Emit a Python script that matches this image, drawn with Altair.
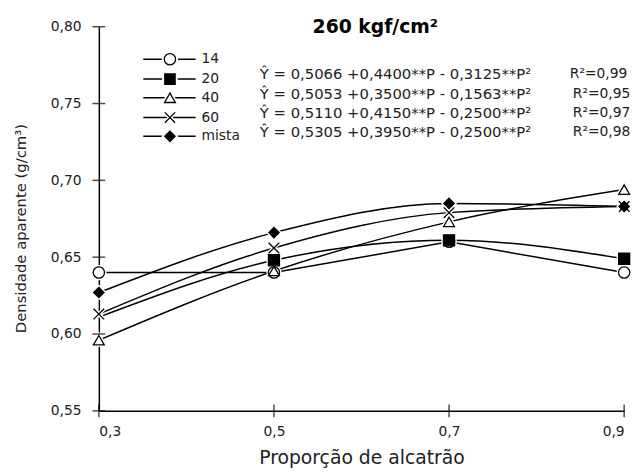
import altair as alt
import pandas as pd

# ---------------- data ----------------
P = [0.3, 0.5, 0.7, 0.9]
series = ["14", "20", "40", "60", "mista"]
v14 = [0.640, 0.640, 0.660, 0.640]
v20 = [0.611, 0.648, 0.661, 0.649]
v40 = [0.596, 0.641, 0.673, 0.694]
v60 = [0.613, 0.656, 0.679, 0.683]
vmista = [0.627, 0.666, 0.685, 0.683]
hidden_markers = [("20", 0.3)]

equations = [
    "Ŷ = 0,5066 +0,4400**P  - 0,3125**P²",
    "Ŷ = 0,5053 +0,3500**P  - 0,1563**P²",
    "Ŷ = 0,5110 +0,4150**P  - 0,2500**P²",
    "Ŷ = 0,5305 +0,3950**P  - 0,2500**P²",
]
r2 = ["R²=0,99", "R²=0,95", "R²=0,97", "R²=0,98"]
title_text = "260 kgf/cm²"
x_title = "Proporção de alcatrão"
y_title = "Densidade aparente (g/cm³)"
yticks = [0.55, 0.60, 0.65, 0.70, 0.75, 0.80]
xticks = [0.3, 0.5, 0.7, 0.9]

# ---------------- table ----------------
vals = {"14": v14, "20": v20, "40": v40, "60": v60, "mista": vmista}
rows = []
for s in series:
    for p, v in zip(P, vals[s]):
        rows.append({"series": s, "P": p, "y": v,
                     "marker": (s, p) not in hidden_markers})
df = pd.DataFrame(rows)

W, H = 532, 389
FONT = "DejaVu Sans"
xpath = "M-1,-1L1,1M-1,1L1,-1"
shapes = ["circle", "square", "triangle-up", xpath, "diamond"]
fills = ["white", "black", "white", "white", "black"]
sizes = [130, 110, 120, 110, 110]

xs = alt.Scale(domain=[0.3, 0.9], nice=False, zero=False)
ys = alt.Scale(domain=[0.55, 0.80], nice=False, zero=False)

X = alt.X("P:Q", scale=xs,
          axis=alt.Axis(values=xticks, title=x_title, ticks=False, grid=False,
                        labelExpr="replace(format(datum.value, '.1f'), '.', ',')",
                        labelFont=FONT, labelFontSize=14, labelColor="#222",
                        labelPadding=14, titlePadding=10, titleFontSize=19,
                        titleFont=FONT, titleFontWeight="normal"))
Y = alt.Y("y:Q", scale=ys,
          axis=alt.Axis(values=yticks, title=y_title, ticks=False, grid=False,
                        labelExpr="replace(format(datum.value, '.2f'), '.', ',')",
                        labelFont=FONT, labelFontSize=14, labelColor="#222",
                        labelPadding=18, titlePadding=22, titleFontSize=15,
                        titleY=204,
                        titleFont=FONT, titleFontWeight="normal"))

base = alt.Chart(df)
line_lin = base.transform_filter("datum.series == '14'").mark_line(
    color="black", strokeWidth=1.5).encode(x=X, y=Y, detail="series:N")
line_fit = base.transform_filter("datum.series != '14'").mark_line(
    color="black", strokeWidth=1.5, interpolate="monotone").encode(
    x=X, y=Y, detail="series:N")

shape_enc = alt.Shape("series:N", scale=alt.Scale(domain=series, range=shapes), legend=None)
size_enc = alt.Size("series:N", scale=alt.Scale(domain=series, range=sizes), legend=None)
fill_enc = alt.Fill("series:N", scale=alt.Scale(domain=series, range=fills), legend=None)

pts = base.transform_filter("datum.marker")
halo = pts.mark_point(opacity=1, stroke="white", strokeWidth=4, fill="white").encode(
    x=X, y=Y, shape=shape_enc, size=size_enc)
marks = pts.mark_point(opacity=1, stroke="black", strokeWidth=1.3).encode(
    x=X, y=Y, shape=shape_enc, size=size_enc, fill=fill_enc)

# crossing ticks
ytk = alt.Chart(pd.DataFrame({"y": yticks})).mark_tick(
    orient="horizontal", size=13, thickness=1.5, color="black").encode(
    y=alt.Y("y:Q", scale=ys), x=alt.value(0))
xtk = alt.Chart(pd.DataFrame({"P": xticks})).mark_tick(
    orient="vertical", size=13, thickness=1.5, color="black").encode(
    x=alt.X("P:Q", scale=xs), y=alt.value(H))

layers = [line_lin, line_fit, halo, marks, ytk, xtk]

# title
layers.append(alt.Chart(pd.DataFrame({"t": [title_text]})).mark_text(
    font=FONT, fontSize=19, fontWeight="bold", align="center",
    baseline="middle", color="black").encode(
    text="t:N", x=alt.value(280), y=alt.value(0)))

# legend
leg_y = [33, 53, 72, 92, 111]
for s, yy, shp, fl, sz in zip(series, leg_y, shapes, fills, sizes):
    d = pd.DataFrame({"t": [s]})
    layers.append(alt.Chart(d).mark_rule(color="black", strokeWidth=1.5).encode(
        x=alt.value(45), x2=alt.value(98), y=alt.value(yy)))
    layers.append(alt.Chart(d).mark_point(shape=shp, size=sz + 30, fill="white",
                                          stroke="white", strokeWidth=4, opacity=1).encode(
        x=alt.value(72), y=alt.value(yy)))
    layers.append(alt.Chart(d).mark_point(shape=shp, size=sz, fill=fl,
                                          stroke="black", strokeWidth=1.3, opacity=1).encode(
        x=alt.value(72), y=alt.value(yy)))
    layers.append(alt.Chart(d).mark_text(font=FONT, fontSize=14, align="left",
                                         baseline="middle", color="#222").encode(
        text="t:N", x=alt.value(104), y=alt.value(yy)))

# equations
eq_y = [48, 68, 87, 107]
r2_x = [477, 480, 480, 480]
for e, r, yy, rx in zip(equations, r2, eq_y, r2_x):
    layers.append(alt.Chart(pd.DataFrame({"t": [e]})).mark_text(
        font=FONT, fontSize=15, align="left", baseline="middle",
        color="#222").encode(text="t:N", x=alt.value(163), y=alt.value(yy)))
    layers.append(alt.Chart(pd.DataFrame({"t": [r]})).mark_text(
        font=FONT, fontSize=14, align="left", baseline="middle",
        color="#222").encode(text="t:N", x=alt.value(rx), y=alt.value(yy)))

chart = alt.layer(*layers).properties(
    width=W, height=H,
    autosize=alt.AutoSizeParams(type="none"),
    padding={"left": 92, "top": 16, "right": 12, "bottom": 60},
).configure_view(stroke=None).configure_axis(
    domainColor="black", domainWidth=1.5, titleColor="#222",
)

chart.save("out.html", embed_options={"renderer": "svg", "actions": False})
